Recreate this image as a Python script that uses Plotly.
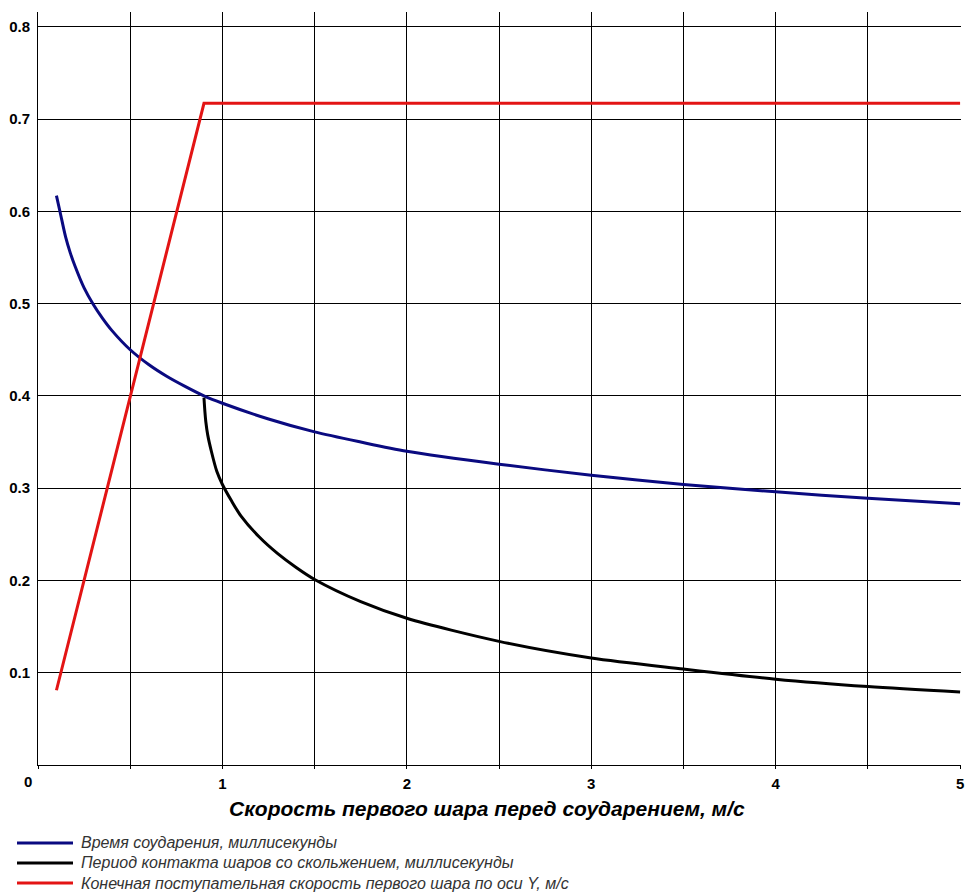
import plotly.graph_objects as go

# ---- data ----
speed_blue = [0.1, 0.12, 0.15, 0.175, 0.2, 0.25, 0.3, 0.35, 0.4, 0.5, 0.6, 0.7,
              0.8, 0.9, 1.0, 1.25, 1.5, 1.75, 2.0, 2.5, 3.0, 3.5, 4.0, 4.5, 5.0]
collision_time = [0.617, 0.599, 0.572, 0.555, 0.541, 0.517, 0.499, 0.484, 0.471,
                  0.450, 0.434, 0.421, 0.410, 0.400, 0.392, 0.375, 0.361, 0.350,
                  0.340, 0.326, 0.314, 0.304, 0.296, 0.289, 0.283]

speed_black = [0.9, 0.905, 0.91, 0.92, 0.94, 0.97, 1.0, 1.05, 1.1, 1.2, 1.3, 1.4,
               1.5, 1.75, 2.0, 2.5, 3.0, 3.5, 4.0, 4.5, 5.0]
sliding_time = [0.398, 0.383, 0.372, 0.358, 0.340, 0.318, 0.304, 0.286, 0.270,
                0.247, 0.229, 0.214, 0.201, 0.177, 0.159, 0.134, 0.116, 0.104,
                0.093, 0.085, 0.079]

speed_red = [0.1, 0.9, 5.0]
final_speed_y = [0.081, 0.717, 0.717]

series_names = [
    "Время соударения, миллисекунды",
    "Период контакта шаров со скольжением, миллисекунды",
    "Конечная поступательная скорость первого шара по оси Y, м/с",
]
series_colors = ["#0a0a80", "#000000", "#e31414"]

x_tick_vals = [0, 0.5, 1, 1.5, 2, 2.5, 3, 3.5, 4, 4.5, 5]
x_tick_text = ["", "", "1", "", "2", "", "3", "", "4", "", "5"]
x_zero_label = "0"
y_tick_vals = [0.1, 0.2, 0.3, 0.4, 0.5, 0.6, 0.7, 0.8]
y_tick_text = ["0.1", "0.2", "0.3", "0.4", "0.5", "0.6", "0.7", "0.8"]
x_title = "Скорость первого шара перед соударением, м/с"

FONT = "Liberation Sans, Arial, sans-serif"

fig = go.Figure()
for xs, ys, name, col, shape in [
    (speed_blue, collision_time, series_names[0], series_colors[0], "spline"),
    (speed_black, sliding_time, series_names[1], series_colors[1], "spline"),
    (speed_red, final_speed_y, series_names[2], series_colors[2], "linear"),
]:
    fig.add_trace(go.Scatter(x=xs, y=ys, mode="lines", name=name,
                             line=dict(color=col, width=3, shape=shape, smoothing=0.8),
                             showlegend=False))

W, H = 966, 892
ml, mr, mt, mb = 38, 5, 12, 127
pw = W - ml - mr
ph = H - mt - mb


def px_x(X):
    return (X - ml) / pw


def px_y(Y):
    return (H - mb - Y) / ph


annotations = [
    dict(x=0, y=0, xref="x", yref="y", text="<b>" + x_zero_label + "</b>",
         showarrow=False, xanchor="right", yanchor="top", xshift=-4, yshift=-6,
         font=dict(family=FONT, size=15, color="#000000")),
    dict(x=px_x(487), y=px_y(808), xref="paper", yref="paper",
         text="<b><i>" + x_title + "</i></b>", showarrow=False,
         xanchor="center", yanchor="middle",
         font=dict(family=FONT, size=21, color="#000000")),
]
shapes = []
legend_rows = [843, 863, 883]
for name, col, Y in zip(series_names, series_colors, legend_rows):
    shapes.append(dict(type="line", xref="paper", yref="paper",
                       x0=px_x(17), x1=px_x(73), y0=px_y(Y), y1=px_y(Y),
                       line=dict(color=col, width=3)))
    annotations.append(dict(x=px_x(79), y=px_y(Y), xref="paper", yref="paper",
                            text="<i>" + name + "</i>", showarrow=False,
                            xanchor="left", yanchor="middle",
                            font=dict(family=FONT, size=16, color="#333333")))

fig.update_layout(
    width=W, height=H,
    margin=dict(l=ml, r=mr, t=mt, b=mb, pad=0, autoexpand=False),
    paper_bgcolor="white", plot_bgcolor="white",
    showlegend=False,
    font=dict(family=FONT, color="#000000"),
    annotations=annotations,
    shapes=shapes,
)
fig.update_xaxes(
    range=[0, 5.005], tickmode="array", tickvals=x_tick_vals, ticktext=x_tick_text,
    showgrid=True, gridcolor="#000000", gridwidth=1,
    showline=True, linecolor="#000000", linewidth=1,
    ticks="outside", ticklen=3, tickcolor="#000000", ticklabelstandoff=2,
    tickfont=dict(family=FONT, size=15, color="#000000", weight="bold"),
    zeroline=False, fixedrange=True, automargin=False,
)
fig.update_yaxes(
    range=[0, 0.816], tickmode="array", tickvals=y_tick_vals, ticktext=y_tick_text,
    showgrid=True, gridcolor="#000000", gridwidth=1,
    showline=True, linecolor="#000000", linewidth=1,
    ticks="", ticklabelstandoff=4,
    tickfont=dict(family=FONT, size=15, color="#000000", weight="bold"),
    zeroline=False, fixedrange=True, automargin=False,
)

fig.write_html(
    "out.html",
    config={"displayModeBar": False},
    post_script="document.body.style.margin='0';document.body.style.padding='0';",
)
